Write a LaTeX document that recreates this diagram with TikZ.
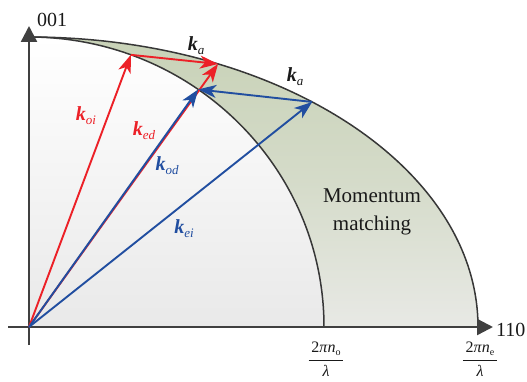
\documentclass[tikz,border=0pt]{standalone}
\usepackage{fontspec}
\setmainfont{Liberation Serif}
\newfontfamily\tnr{Liberation Serif}
\usetikzlibrary{arrows.meta}
\definecolor{kred}{RGB}{236,32,39}
\definecolor{kblue}{RGB}{33,78,160}
\definecolor{bandtop}{RGB}{200,210,183}
\definecolor{bandbot}{RGB}{232,233,229}
\definecolor{innerbot}{RGB}{233,233,233}
\definecolor{axisgray}{RGB}{64,64,64}
\definecolor{curvegray}{RGB}{55,55,55}
\newcommand{\kvec}[1]{{\tnr\bfseries\itshape k}\raisebox{-0.45ex}{\tnr\fontsize{13}{13}\selectfont\itshape #1}}
\newcommand{\kfrac}[1]{$\displaystyle\frac{\mbox{\tnr\,2\textit{π}\textit{n}\raisebox{-0.35ex}{\fontsize{10}{10}\selectfont #1}\,}}{\mbox{\tnr\textit{λ}}}$}
\begin{document}
\begin{tikzpicture}[x=1pt,y=1pt,
  vec/.style={line width=1.9pt,-{Stealth[length=18pt,width=13pt,inset=5pt]}},
  axisline/.style={line width=2.4pt,draw=axisgray,-{Triangle[length=16pt,width=16pt]}},
  curve/.style={line width=1.5pt,draw=curvegray},
  klab/.style={font=\tnr\fontsize{20}{20}\selectfont,inner sep=0pt},
  axlab/.style={font=\tnr\fontsize{20}{20}\selectfont,inner sep=0pt},
  fraclab/.style={font=\tnr\fontsize{16}{16}\selectfont,inner sep=0pt}]
\useasboundingbox (-29,-54) rectangle (498,327);
% filled regions
\shade[top color=bandtop,bottom color=bandbot,middle color=bandtop!60!bandbot] (0,0) -- (449,0) arc[start angle=0,end angle=90,x radius=449,y radius=290] -- cycle;
\shade[top color=white,bottom color=innerbot] (0,0) -- (295,0) arc[start angle=0,end angle=90,x radius=295,y radius=290] -- cycle;
% curves
\draw[curve] (449,0) arc[start angle=0,end angle=90,x radius=449,y radius=290];
\draw[curve] (295,0) arc[start angle=0,end angle=90,x radius=295,y radius=290];
% axes
\coordinate (O) at (0,0);
\coordinate (xs) at (-21,0);
\coordinate (xe) at (464,0);
\coordinate (ys) at (0,-18);
\coordinate (ye) at (0,301);
\draw[axisline] (xs) -- (xe);
\draw[axisline] (ys) -- (ye);
% points
\coordinate (O1) at ({295*cos(69.8)},{290*sin(69.8)});
\coordinate (O2) at ({295*cos(55)},{290*sin(55)});
\coordinate (E1) at ({449*cos(65.1)},{290*sin(65.1)});
\coordinate (E2) at ({449*cos(50.9)},{290*sin(50.9)});
% vectors
\draw[vec,draw=kred,fill=kred] (O) -- (O1);
\draw[vec,draw=kred,fill=kred] (O) -- (E1);
\draw[vec,draw=kred,fill=kred] (O1) -- (E1);
\draw[vec,draw=kblue,fill=kblue] (O) -- (O2);
\draw[vec,draw=kblue,fill=kblue] (O) -- (E2);
\draw[vec,draw=kblue,fill=kblue] (E2) -- (O2);
% labels
\node[klab,text=kred] (loi) at (57,211) {\kvec{oi}};
\node[klab,text=kred] (led) at (115,196) {\kvec{ed}};
\node[klab,text=kblue] (lod) at (138,161) {\kvec{od}};
\node[klab,text=kblue] (lei) at (155,98) {\kvec{ei}};
\node[klab,text=black!90] (la1) at (167,281) {\kvec{a}};
\node[klab,text=black!90] (la2) at (266,250) {\kvec{a}};
\node[axlab,text=black!90] (l001) at (23,307) {001};
\node[axlab,text=black!90,anchor=west] (l110) at (467,-3) {110};
\node[font=\tnr\fontsize{21}{28}\selectfont,align=center,inner sep=0pt,text=black!90] (mm) at (343,115) {Momentum\\matching};
\node[fraclab,text=black!90] (fo) at (297,-32) {\kfrac{o}};
\node[fraclab,text=black!90] (fe) at (451,-32) {\kfrac{e}};
\end{tikzpicture}
\end{document}
